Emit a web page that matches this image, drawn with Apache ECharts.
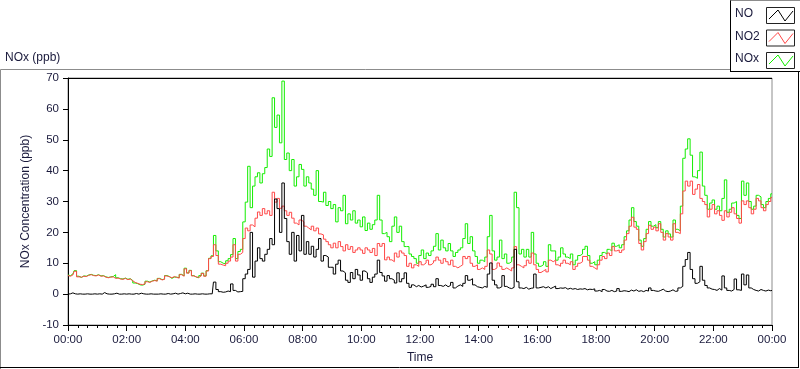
<!DOCTYPE html>
<html>
<head>
<meta charset="utf-8">
<script src="https://cdn.jsdelivr.net/npm/echarts@6/dist/echarts.min.js"></script>
<style>
html,body{margin:0;padding:0;background:#fff;}
#chart{width:800px;height:369px;}
</style>
</head>
<body>
<div id="chart"></div>
<script>
// sampling step of the readings, minutes
const stepMinutes = 5;
const xTickLabels = ['00:00','02:00','04:00','06:00','08:00','10:00','12:00','14:00','16:00','18:00','20:00','22:00','00:00'];
const seriesNames = ['NO', 'NO2', 'NOx'];

// NO (ppb), 12 readings per hour, 00:00 .. 24:00
const NO = [
  0.0,0.1,0.4,0.1,0.0,0.1,0.0,0.0,0.1,0.0,0.0,0.1,
  0.0,0.1,0.0,0.5,0.1,0.0,0.0,0.1,0.3,0.0,0.0,0.1,
  0.0,0.1,0.0,0.0,0.2,0.0,0.3,0.1,0.0,0.0,0.1,0.0,
  0.0,0.0,0.1,0.0,0.0,0.2,0.0,0.1,0.3,0.0,0.2,0.4,
  0.1,0.3,0.0,0.0,0.1,0.0,0.0,0.1,0.0,0.0,0.1,0.1,
  3.9,1.5,0.8,0.6,0.7,1.0,0.8,3.3,1.2,0.7,0.8,0.9,
  5.0,6.5,8.0,20.0,5.5,10.7,15.0,11.5,10.7,12.9,14.5,18.0,
  16.0,30.8,27.7,20.0,36.0,24.5,17.0,12.9,20.0,10.7,19.0,14.0,
  25.5,12.9,17.0,12.9,15.5,12.0,14.5,18.0,10.7,12.5,12.0,8.7,
  8.7,6.5,9.7,11.0,7.5,6.9,4.5,3.8,7.0,5.0,8.0,6.2,
  4.5,7.5,6.9,5.0,3.8,5.5,6.5,11.0,7.0,5.9,4.2,6.0,
  5.0,4.5,3.6,6.9,4.0,5.0,6.9,3.5,2.2,3.0,2.4,2.8,
  2.3,2.6,3.0,2.2,2.5,3.2,2.4,5.0,2.8,2.5,3.0,2.4,
  2.8,3.8,2.0,2.6,3.0,2.5,3.5,6.0,4.5,5.0,3.0,2.4,
  2.2,2.0,2.5,2.2,6.5,10.1,4.5,3.0,2.0,2.4,6.0,2.5,
  2.0,1.8,2.2,14.5,4.0,2.0,1.8,2.2,1.6,1.9,2.0,6.5,
  2.0,2.2,2.4,2.0,2.4,1.8,2.2,2.6,1.8,2.0,1.9,2.1,
  1.6,1.9,1.6,1.8,1.5,1.7,1.6,1.8,1.4,1.6,1.5,1.7,
  1.0,1.2,0.8,1.5,1.0,0.9,1.2,0.8,1.0,1.8,0.9,1.1,
  1.0,0.8,1.3,1.0,1.4,0.9,1.1,0.8,1.2,1.0,2.0,1.2,
  1.0,0.9,1.2,1.6,1.0,0.8,1.0,1.4,0.9,1.0,2.0,2.5,
  9.0,11.2,13.5,8.0,5.0,3.5,4.0,9.0,4.5,2.8,2.0,1.6,
  1.5,1.2,1.8,1.3,5.9,2.0,1.2,1.0,1.5,4.9,1.4,1.2,
  6.5,3.0,6.2,2.0,1.5,1.2,1.0,1.5,1.2,1.0,1.3,1.1,
  1.2
];

// NO2 (ppb)
const NO2 = [
  6.0,5.8,6.2,7.4,5.6,5.5,5.8,5.7,6.1,6.3,6.0,5.9,
  6.2,5.8,5.9,5.5,5.3,5.5,5.6,5.1,5.2,4.9,4.8,5.1,
  4.7,4.9,4.3,3.8,3.5,3.2,3.1,3.3,4.0,3.8,4.2,4.4,
  4.2,5.0,4.6,4.8,5.9,5.6,5.3,5.7,5.4,5.2,6.3,5.8,
  8.2,6.8,7.6,5.9,5.6,5.4,5.9,6.7,5.8,7.5,11.5,12.2,
  16.0,12.5,9.7,9.4,9.2,10.0,10.7,12.0,16.0,10.7,12.9,13.5,
  18.0,21.4,20.5,22.4,21.8,24.6,26.6,25.5,27.7,26.0,27.0,25.5,
  33.0,29.8,31.0,27.8,28.5,27.0,25.5,26.5,24.6,23.0,22.4,24.0,
  23.4,22.0,21.4,20.8,22.0,20.5,21.4,19.5,19.2,17.8,17.0,16.0,
  15.0,16.5,15.0,17.0,15.4,14.0,16.0,14.5,15.4,13.5,14.3,15.0,
  14.3,13.2,15.0,14.3,13.5,14.8,12.5,16.4,15.5,16.4,11.1,12.0,
  11.1,10.5,13.3,12.0,14.0,13.3,12.5,9.0,10.0,8.5,9.5,9.0,
  10.5,9.5,10.1,11.0,9.5,10.1,10.8,12.0,11.0,10.0,11.5,10.5,
  9.5,11.0,9.0,8.5,9.0,9.5,12.2,11.5,12.2,10.0,9.0,9.5,
  8.0,8.5,8.0,9.0,14.3,13.0,8.0,8.5,10.1,9.0,8.0,8.5,
  8.0,7.5,8.5,15.4,9.5,9.0,8.5,9.2,11.0,10.0,13.3,9.5,
  8.0,7.0,7.5,8.0,7.2,11.0,10.5,11.0,9.5,9.0,10.0,11.0,
  10.0,9.5,10.5,8.0,9.0,10.0,10.5,12.2,12.2,11.0,9.0,8.5,
  8.0,9.5,11.0,12.2,11.5,13.3,12.5,15.4,14.0,14.3,13.5,14.3,
  17.5,19.6,22.0,24.9,21.7,21.0,16.4,14.3,17.0,19.6,22.3,21.0,
  21.7,20.5,22.8,20.0,17.5,19.6,18.5,17.5,22.8,20.0,19.6,26.0,
  33.4,36.6,35.0,36.6,32.3,34.0,35.5,31.0,30.0,29.0,25.0,27.5,
  29.0,26.0,27.0,25.5,23.9,27.0,25.0,26.5,28.0,26.0,24.5,23.0,
  30.2,29.0,30.2,28.0,26.0,27.5,31.0,30.2,28.0,27.0,29.0,30.0,
  31.3
];

// NOx (ppb)
const NOx = [
  6.2,6.0,6.5,7.6,5.8,5.4,5.9,5.8,6.2,6.4,6.1,6.0,
  6.3,5.9,6.0,5.6,5.4,5.6,5.7,6.3,5.3,5.0,4.9,5.2,
  4.8,5.0,4.4,3.6,3.4,3.0,2.9,3.2,4.2,3.9,4.3,4.5,
  4.3,5.1,4.7,4.9,6.0,5.7,5.1,5.5,5.5,5.3,6.4,5.9,
  8.4,6.9,7.7,6.0,5.5,5.3,6.0,6.8,5.9,7.6,11.6,12.4,
  19.0,14.0,10.5,10.0,9.8,10.8,11.5,12.8,18.0,11.5,13.8,14.5,
  23.4,29.8,41.4,28.0,35.0,38.0,39.3,36.0,39.0,41.0,47.0,44.6,
  63.6,54.0,58.0,49.0,69.0,43.6,45.7,40.0,43.6,35.0,38.0,42.0,
  40.4,35.0,38.0,36.0,34.0,32.0,40.0,30.0,29.8,33.0,28.7,30.0,
  27.7,29.0,23.4,28.0,27.0,32.0,22.8,26.0,24.0,27.0,23.0,24.0,
  21.8,25.0,20.6,23.0,21.0,22.5,24.0,32.0,24.0,19.6,20.0,18.6,
  17.0,22.0,25.0,20.0,22.0,17.0,15.4,15.4,13.0,12.2,11.5,10.0,
  12.5,14.3,11.5,13.3,12.5,14.0,15.5,19.6,14.3,17.5,15.0,14.0,
  16.4,14.0,12.2,13.5,14.3,15.0,18.0,22.8,16.4,18.6,14.0,12.2,
  10.0,11.0,10.5,12.0,18.6,25.5,14.0,11.0,12.0,17.5,11.5,13.0,
  10.0,10.5,12.0,33.0,28.0,13.0,14.5,12.0,14.5,12.0,20.0,13.0,
  10.0,9.0,9.5,10.5,9.0,16.0,14.0,14.0,11.0,12.0,15.0,13.0,
  12.0,11.5,13.0,9.5,11.0,12.5,13.0,14.5,15.5,12.5,10.0,10.5,
  9.5,11.0,12.5,13.5,13.0,14.5,14.0,16.5,15.5,16.0,15.0,16.0,
  18.6,20.5,24.0,28.0,23.5,22.0,17.5,15.5,18.0,21.0,23.5,22.0,
  22.5,21.5,23.5,21.0,18.5,20.5,19.5,18.5,24.0,21.0,20.5,28.5,
  44.0,47.0,50.3,45.0,38.0,37.5,40.0,46.0,35.0,32.0,27.5,29.5,
  30.5,27.5,28.5,27.0,31.0,37.0,26.5,27.5,29.5,30.0,25.5,24.5,
  36.6,32.0,36.0,30.0,27.5,28.5,32.0,31.5,29.0,28.0,30.0,31.0,
  32.5
];

const toPairs = arr => arr.map((v, i) => [i * stepMinutes / 60, v]);

const FONT = '"Liberation Sans", Arial, sans-serif';
const TXT = '#1a1a3c';
const colors = { NO: '#000000', NO2: '#ff4848', NOx: '#14ee00' };

const chart = echarts.init(document.getElementById('chart'), null, { renderer: 'canvas' });

// legend rows (text is real text, icons are decorative)
const legendGraphics = [];
seriesNames.forEach((name, k) => {
  const cy = 15 + k * 22.5;
  legendGraphics.push({
    type: 'text', left: 735, top: cy - 7,
    style: { text: name, font: '12px ' + FONT, fill: TXT }
  });
  legendGraphics.push({
    type: 'rect', shape: { x: 766.5, y: cy - 7.5, width: 28, height: 16 },
    style: { fill: '#fff', stroke: '#222', lineWidth: 1 }
  });
  legendGraphics.push({
    type: 'polyline',
    shape: { points: [[769, cy + 4], [778, cy - 5], [785, cy + 6], [793, cy - 4]] },
    style: { stroke: colors[name], lineWidth: 1, fill: null }
  });
});

const lineSeries = (name, arr, z) => ({
  name, type: 'line', data: toPairs(arr), step: 'middle', showSymbol: false, symbol: 'none',
  lineStyle: { color: colors[name], width: 1 }, z
});

const option = {
  backgroundColor: '#ffffff',
  animation: false,
  textStyle: { fontFamily: FONT },
  grid: { left: 68, top: 78, width: 704, height: 252, show: true, borderColor: '#8c8c8c', borderWidth: 1, backgroundColor: '#fff' },
  xAxis: {
    type: 'value', min: 0, max: 24, interval: 2,
    name: 'Time', nameLocation: 'middle', nameGap: 27,
    nameTextStyle: { fontSize: 12, color: TXT, fontFamily: FONT },
    axisLine: { show: true, onZero: false, lineStyle: { color: '#000', width: 1 } },
    axisTick: { show: true, length: 6, lineStyle: { color: '#000' } },
    minorTick: { show: true, splitNumber: 6, length: 3, lineStyle: { color: '#000' } },
    axisLabel: {
      fontSize: 11.5, color: TXT, margin: 9, fontFamily: FONT,
      formatter: v => xTickLabels[Math.round(v / 2)]
    },
    splitLine: { show: false }
  },
  yAxis: {
    type: 'value', min: -10, max: 70, interval: 10,
    name: 'NOx Concentration (ppb)', nameLocation: 'middle', nameGap: 27,
    nameTextStyle: { fontSize: 12, color: TXT, fontFamily: FONT },
    axisLine: { show: true, onZero: false, lineStyle: { color: '#000', width: 1 } },
    axisTick: { show: true, length: 5, lineStyle: { color: '#000' } },
    axisLabel: { fontSize: 11.5, color: TXT, margin: 9, fontFamily: FONT },
    splitLine: { show: false }
  },
  series: [
    lineSeries('NOx', NOx, 2),
    lineSeries('NO2', NO2, 3),
    lineSeries('NO', NO, 4)
  ],
  graphic: [
    // outer panel frame
    { type: 'line', shape: { x1: 0.5, y1: 69.5, x2: 730, y2: 69.5 }, style: { stroke: '#8c8c8c', lineWidth: 1 } },
    { type: 'line', shape: { x1: 0.5, y1: 69.5, x2: 0.5, y2: 369 }, style: { stroke: '#8c8c8c', lineWidth: 1 } },
    { type: 'line', shape: { x1: 0, y1: 367.5, x2: 799, y2: 367.5 }, style: { stroke: '#000', lineWidth: 1 } },
    { type: 'line', shape: { x1: 798.5, y1: 72, x2: 798.5, y2: 368 }, style: { stroke: '#000', lineWidth: 1 } },
    // legend panel
    { type: 'line', shape: { x1: 730.5, y1: 0, x2: 730.5, y2: 72 }, style: { stroke: '#000', lineWidth: 1 } },
    { type: 'line', shape: { x1: 730.5, y1: 71.5, x2: 800, y2: 71.5 }, style: { stroke: '#000', lineWidth: 1 } },
    { type: 'line', shape: { x1: 730.5, y1: 0.5, x2: 800, y2: 0.5 }, style: { stroke: '#8c8c8c', lineWidth: 1 } },
    // plot top edge
    { type: 'line', shape: { x1: 68, y1: 78.5, x2: 772, y2: 78.5 }, style: { stroke: '#000', lineWidth: 1 }, z: 10 },
    // title
    { type: 'text', left: 5, top: 52, style: { text: 'NOx (ppb)', font: '12px ' + FONT, fill: TXT } }
  ].concat(legendGraphics)
};

chart.setOption(option);
</script>
</body>
</html>
